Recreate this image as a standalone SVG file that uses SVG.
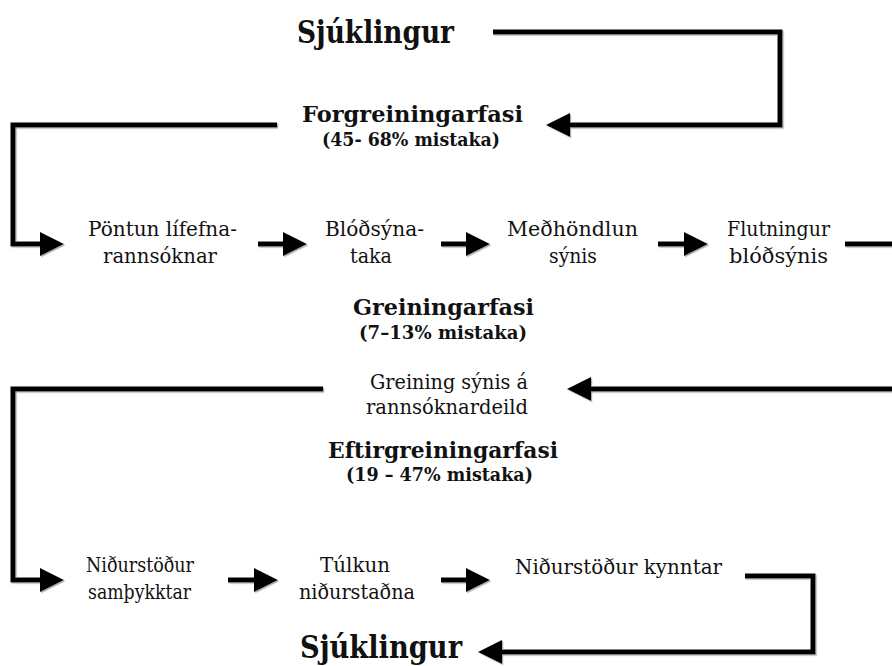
<svg xmlns="http://www.w3.org/2000/svg" width="892" height="666" viewBox="0 0 892 666">
<defs>
<style>
text{font-family:"DejaVu Serif","Liberation Serif",serif;fill:#111}
.b{font-weight:bold}
.big{font-size:31px}
.ph{font-size:22px}
.pc{font-size:18px}
.n{font-size:20px}
.c{fill:none;stroke:#000;stroke-width:5;stroke-linejoin:miter;stroke-linecap:butt;marker-end:url(#arr)}
.c.plain{marker-end:none}
</style>
<marker id="arr" markerUnits="userSpaceOnUse" markerWidth="24" markerHeight="24" refX="0" refY="12" orient="auto" viewBox="0 0 24 24">
<path d="M0,0 L24,12 L0,24 Z" fill="#000"/>
</marker>
<filter id="sh" x="-5%" y="-5%" width="110%" height="110%">
<feDropShadow dx="1.2" dy="1.2" stdDeviation="0.4" flood-color="#aaa"/>
</filter>
</defs>
<rect width="892" height="666" fill="#fff"/>

<g id="connectors" filter="url(#sh)">
<path class="c" d="M493,32 H780 V125 H570"/>
<path class="c" d="M277,125 H13 V244 H40"/>
<path class="c" d="M258,244 H283"/>
<path class="c" d="M441,244 H466"/>
<path class="c" d="M658,244 H684"/>
<path class="c plain" d="M845,244 H892"/>
<path class="c" d="M892,389 H591"/>
<path class="c" d="M323,389 H13 V580 H40"/>
<path class="c" d="M228,580 H254"/>
<path class="c" d="M441,580 H466"/>
<path class="c" d="M745,576 H813 V652 H502"/>
</g>

<g id="patient-top"><text class="b big" x="297" y="43" textLength="157" lengthAdjust="spacingAndGlyphs">Sjúklingur</text></g>
<g id="pre-phase">
<text class="b ph" x="302" y="122" textLength="221" lengthAdjust="spacingAndGlyphs">Forgreiningarfasi</text>
<text class="b pc" x="322" y="146" textLength="178" lengthAdjust="spacingAndGlyphs">(45- 68% mistaka)</text>
</g>
<g id="order">
<text class="n" x="88" y="236" textLength="149" lengthAdjust="spacingAndGlyphs">Pöntun lífefna-</text>
<text class="n" x="103" y="263" textLength="114" lengthAdjust="spacingAndGlyphs">rannsóknar</text>
</g>
<g id="sampling">
<text class="n" x="325" y="236" textLength="99" lengthAdjust="spacingAndGlyphs">Blóðsýna-</text>
<text class="n" x="350" y="263" textLength="42" lengthAdjust="spacingAndGlyphs">taka</text>
</g>
<g id="handling">
<text class="n" x="507" y="236" textLength="131" lengthAdjust="spacingAndGlyphs">Meðhöndlun</text>
<text class="n" x="549" y="263" textLength="48" lengthAdjust="spacingAndGlyphs">sýnis</text>
</g>
<g id="transport">
<text class="n" x="727" y="236" textLength="103" lengthAdjust="spacingAndGlyphs">Flutningur</text>
<text class="n" x="729" y="263" textLength="99" lengthAdjust="spacingAndGlyphs">blóðsýnis</text>
</g>
<g id="analytic-phase">
<text class="b ph" x="353" y="315" textLength="181" lengthAdjust="spacingAndGlyphs">Greiningarfasi</text>
<text class="b pc" x="359" y="339" textLength="168" lengthAdjust="spacingAndGlyphs">(7–13% mistaka)</text>
</g>
<g id="analysis">
<text class="n" x="370" y="389" textLength="158" lengthAdjust="spacingAndGlyphs">Greining sýnis á</text>
<text class="n" x="366" y="414" textLength="162" lengthAdjust="spacingAndGlyphs">rannsóknardeild</text>
</g>
<g id="post-phase">
<text class="b ph" x="328" y="458" textLength="230" lengthAdjust="spacingAndGlyphs">Eftirgreiningarfasi</text>
<text class="b pc" x="346" y="481" textLength="187" lengthAdjust="spacingAndGlyphs">(19 – 47% mistaka)</text>
</g>
<g id="approved">
<text class="n" x="86" y="572" textLength="108" lengthAdjust="spacingAndGlyphs">Niðurstöður</text>
<text class="n" x="88" y="599" textLength="103" lengthAdjust="spacingAndGlyphs">samþykktar</text>
</g>
<g id="interpretation">
<text class="n" x="320" y="572" textLength="70" lengthAdjust="spacingAndGlyphs">Túlkun</text>
<text class="n" x="299" y="599" textLength="116" lengthAdjust="spacingAndGlyphs">niðurstaðna</text>
</g>
<g id="reported">
<text class="n" x="515" y="574" textLength="207" lengthAdjust="spacingAndGlyphs">Niðurstöður kynntar</text>
</g>
<g id="patient-bottom"><text class="b big" x="300" y="658" textLength="162" lengthAdjust="spacingAndGlyphs">Sjúklingur</text></g>
</svg>
